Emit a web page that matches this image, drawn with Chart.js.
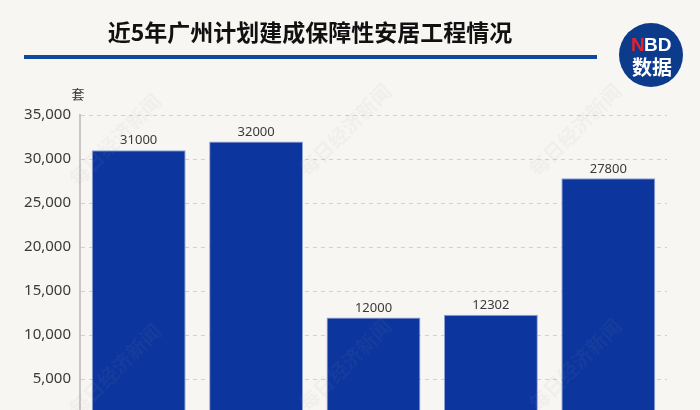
<!DOCTYPE html>
<html>
<head>
<meta charset="utf-8">
<script src="https://cdn.jsdelivr.net/npm/chart.js@4"></script>
<style>
html,body{margin:0;padding:0;background:#f8f6f2;overflow:hidden;width:700px;height:410px;}
#wrap{position:absolute;left:0;top:0;width:700px;height:480px;}
</style>
</head>
<body>
<div id="wrap"><canvas id="c" width="700" height="480"></canvas></div>
<script>
const categories = ['2016年', '2017年', '2018年', '2019年', '2020年'];
const values = [31000, 32000, 12000, 12302, 27800];
const valueLabels = ['31000', '32000', '12000', '12302', '27800'];
const titleText = '近5年广州计划建成保障性安居工程情况';
const unitText = '套';
const watermarkText = '每日经济新闻';

const decor = {
  id: 'decor',
  beforeDraw(chart) {
    const ctx = chart.ctx;
    ctx.save();
    ctx.fillStyle = '#f8f6f2';
    ctx.fillRect(0, 0, chart.width, chart.height);
    // title
    ctx.fillStyle = '#111';
    ctx.font = 'bold 23px "Noto Sans CJK SC"';
    ctx.textAlign = 'center';
    ctx.textBaseline = 'middle';
    ctx.fillText(titleText, 310, 32);
    // underline
    ctx.fillStyle = '#0d4a9e';
    ctx.fillRect(24, 55, 573, 4);
    // logo
    ctx.beginPath();
    ctx.arc(651, 55, 32, 0, Math.PI * 2);
    ctx.fillStyle = '#0c3b8c';
    ctx.fill();
    ctx.font = 'bold 19px "Liberation Sans"';
    ctx.textAlign = 'left';
    ctx.fillStyle = '#e8202a';
    ctx.fillText('N', 631, 46);
    ctx.fillStyle = '#fff';
    ctx.fillText('BD', 644, 46);
    ctx.font = 'bold 20px "Noto Sans CJK SC"';
    ctx.textAlign = 'center';
    ctx.fillText('数据', 652, 67);
    // unit
    const a = chart.chartArea;
    ctx.fillStyle = '#333';
    ctx.font = '13px "Noto Sans CJK SC"';
    ctx.fillText(unitText, a.left - 2, 94);
    ctx.restore();
  },
  afterDatasetsDraw(chart) {
    const ctx = chart.ctx;
    ctx.save();
    ctx.fillStyle = '#3a3a3a';
    ctx.font = '13px "Noto Sans"';
    ctx.textAlign = 'center';
    ctx.textBaseline = 'bottom';
    chart.getDatasetMeta(0).data.forEach((bar, i) => {
      ctx.fillText(valueLabels[i], bar.x, bar.y - 3);
    });
    // watermarks
    ctx.fillStyle = 'rgba(160,160,160,0.07)';
    ctx.font = 'bold 20px "Noto Sans CJK SC"';
    ctx.textBaseline = 'middle';
    const spots = [[115, 140], [345, 130], [575, 130], [115, 370], [345, 365], [575, 365]];
    spots.forEach(([x, y]) => {
      ctx.save();
      ctx.translate(x, y);
      ctx.rotate(-Math.PI / 4);
      ctx.fillText(watermarkText, 0, 0);
      ctx.restore();
    });
    ctx.restore();
  }
};

new Chart(document.getElementById('c'), {
  type: 'bar',
  data: {
    labels: categories,
    datasets: [{
      data: values,
      backgroundColor: '#0c359e',
      borderColor: '#8fa3d6',
      borderWidth: 1,
      categoryPercentage: 1,
      barPercentage: 0.8
    }]
  },
  plugins: [decor],
  options: {
    responsive: false,
    animation: false,
    events: [],
    layout: { padding: { top: 115, right: 33, bottom: 27, left: 0 } },
    plugins: { legend: { display: false }, tooltip: { enabled: false }, title: { display: false } },
    scales: {
      x: {
        grid: { display: false, drawTicks: false },
        border: { display: false },
        ticks: { color: '#333', font: { size: 14, family: 'Noto Sans CJK SC' } },
        afterFit(s) { s.height = 30; }
      },
      y: {
        min: 0,
        max: 35000,
        ticks: {
          stepSize: 5000,
          color: '#3a3a3a',
          padding: 9,
          font: { size: 15, family: 'Noto Sans' },
          callback: v => v === 0 ? '' : v.toLocaleString('en-US')
        },
        grid: { color: '#d2d0cc', lineWidth: 1, drawTicks: false },
        border: { display: true, color: '#c9c7c3', width: 2, dash: [4, 4] },
        afterFit(s) { s.width = 80; }
      }
    }
  }
});
</script>
</body>
</html>
